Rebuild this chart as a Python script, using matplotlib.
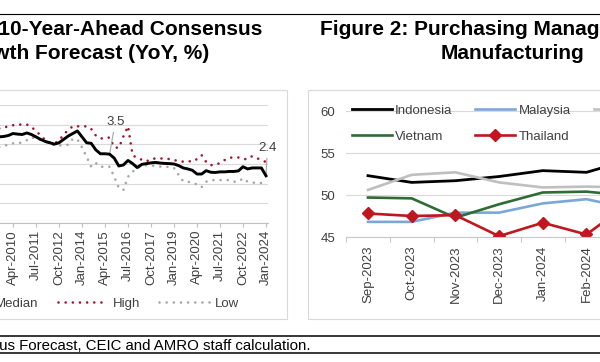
import numpy as np
import pandas as pd
import matplotlib
matplotlib.use('Agg')
import matplotlib.pyplot as plt
from matplotlib.patches import Rectangle
from matplotlib.lines import Line2D

plt.rcParams['font.family'] = ['Liberation Sans', 'DejaVu Sans']

# ---------------- Figure 1 data (quarterly) ----------------
quarters = pd.period_range('2009Q3', '2024Q1', freq='Q')
q_tick_labels = ['Apr-2010', 'Jul-2011', 'Oct-2012', 'Jan-2014', 'Apr-2015', 'Jul-2016',
                 'Oct-2017', 'Jan-2019', 'Apr-2020', 'Jul-2021', 'Oct-2022', 'Jan-2024']
median = [4.38, 4.40, 4.45, 4.55, 4.52, 4.50, 4.58, 4.50, 4.38, 4.25,
          4.15, 4.08, 4.01, 4.08, 4.25, 4.42, 4.55, 4.68, 4.38, 4.08,
          4.05, 3.72, 3.52, 3.52, 3.50, 3.30, 2.90, 2.95, 3.18, 3.02,
          2.82, 2.98, 3.02, 3.06, 3.08, 3.05, 3.03, 3.02, 3.00, 2.92,
          2.80, 2.75, 2.68, 2.49, 2.49, 2.66, 2.58, 2.57, 2.60, 2.60,
          2.62, 2.62, 2.65, 2.86, 2.75, 2.80, 2.80, 2.80, 2.40]
high = [4.81, 4.85, 4.92, 4.97, 5.00, 5.01, 5.01, 4.88, 4.68, 4.45,
        4.22, 4.08, 4.05, 4.18, 4.50, 4.72, 4.92, 4.92, 4.90, 4.92,
        4.78, 4.45, 4.30, 4.30, 4.35, 3.85, 3.82, 4.40, 4.92, 3.45,
        3.30, 3.22, 3.13, 3.26, 3.28, 3.28, 3.28, 3.25, 3.20, 3.15,
        3.12, 3.15, 3.12, 3.25, 3.45, 3.10, 2.94, 2.96, 3.05, 3.20,
        3.32, 3.33, 3.33, 3.25, 3.25, 3.40, 3.30, 3.20, 3.10]
low = [3.87, 3.92, 3.98, 4.05, 4.05, 4.10, 4.21, 4.35, 4.30, 4.22,
       4.13, 4.00, 3.96, 3.94, 3.96, 3.98, 4.28, 4.25, 3.85, 3.37,
       2.86, 3.05, 2.86, 2.86, 2.86, 2.35, 1.78, 1.68, 2.35, 2.60,
       2.80, 2.88, 2.94, 2.92, 2.90, 2.87, 2.86, 2.85, 2.80, 2.45,
       2.12, 2.10, 2.05, 1.96, 1.82, 2.10, 2.18, 2.18, 2.18, 2.18,
       2.18, 2.10, 2.10, 2.27, 2.10, 2.05, 2.05, 2.03, 2.03]
label_points = {'2015Q3': '3.5', '2024Q1': '2.4'}

# ---------------- Figure 2 data (monthly PMI) ----------------
months = ['Sep-2023', 'Oct-2023', 'Nov-2023', 'Dec-2023', 'Jan-2024', 'Feb-2024', 'Mar-2024']
indonesia = [52.3, 51.5, 51.7, 52.2, 52.9, 52.7, 54.2]
malaysia = [46.8, 46.8, 47.9, 47.9, 49.0, 49.5, 48.4]
philippines = [50.6, 52.4, 52.7, 51.5, 50.9, 51.0, 50.9]
vietnam = [49.7, 49.6, 47.3, 48.9, 50.3, 50.4, 49.9]
thailand = [47.8, 47.5, 47.6, 45.1, 46.7, 45.3, 49.1]

W, H = 600, 362
fig = plt.figure(figsize=(W / 100, H / 100), dpi=100)


def fxy(x, y):
    return x / W, 1 - y / H


def px_box(x0, y_top, x1, y_bot):
    return [x0 / W, 1 - y_bot / H, (x1 - x0) / W, (y_bot - y_top) / H]


GRID = '#d9d9d9'
TXT = '#404040'
FS = 9.5
DOTS = (0, (0.01, 2.7))

# ---------------- page decorations ----------------
fig.add_artist(Line2D([0, 1], [fxy(0, 14)[1]] * 2, color='black', lw=0.8,
                      transform=fig.transFigure))
for yy in (336, 353):
    fig.add_artist(Line2D([0, 1], [fxy(0, yy)[1]] * 2, color='black', lw=1.1,
                          transform=fig.transFigure))
fig.add_artist(Rectangle(fxy(-10, 319), 297 / W, 229 / H, fill=False,
                         edgecolor=GRID, lw=0.8, transform=fig.transFigure))
fig.add_artist(Rectangle(fxy(308, 319), 302 / W, 229 / H, fill=False,
                         edgecolor=GRID, lw=0.8, transform=fig.transFigure))

# titles
tkw = dict(fontsize=15, fontweight='bold', color='black', va='baseline', ha='center')
fig.text(*fxy(83, 35), 'Figure 1: 10-Year-Ahead Consensus', **tkw)
fig.text(*fxy(83, 59.3), 'Growth Forecast (YoY, %)', **tkw)
fig.text(*fxy(512, 35), "Figure 2: Purchasing Managers' Index:", **tkw)
fig.text(*fxy(512, 59.3), 'Manufacturing', **tkw)

# source
fig.text(*fxy(310, 350), 'Source: Consensus Forecast, CEIC and AMRO staff calculation.',
         fontsize=10.8, color='black', ha='right', va='baseline')

# ---------------- Figure 1 axes ----------------
ax1 = fig.add_axes(px_box(-14.6, 105, 268.3, 223))
x1 = np.arange(len(quarters))
ax1.plot(x1, median, color='black', lw=2.1, solid_joinstyle='round', label='Median', zorder=4)
ax1.plot(x1, high, color='#a3142c', lw=1.9, linestyle=DOTS,
         dash_capstyle='round', label='High', zorder=3)
ax1.plot(x1, low, color='#a6a6a6', lw=1.9, linestyle=DOTS,
         dash_capstyle='round', label='Low', zorder=3)
ax1.set_xlim(-3, 58.5)
ax1.set_ylim(0, 6)
ax1.set_yticks(range(0, 7))
ax1.yaxis.grid(True, color=GRID, lw=0.8)
ax1.set_axisbelow(True)
for s in ('left', 'right', 'top'):
    ax1.spines[s].set_visible(False)
ax1.spines['bottom'].set_color('#bfbfbf')
ax1.spines['bottom'].set_linewidth(0.8)
ax1.tick_params(axis='y', length=0, labelleft=False)
q_names = [p.start_time.strftime('%b-%Y') for p in quarters]
ax1.set_xticks([q_names.index(l) for l in q_tick_labels])
ax1.set_xticklabels(q_tick_labels, rotation=90, fontsize=FS, color=TXT)
ax1.tick_params(axis='x', length=3, color='#bfbfbf', width=0.8, pad=2)
ax1.patch.set_alpha(0)

q_str = [str(p) for p in quarters]
offsets = {'3.5': (4, 23), '2.4': (1, 20)}
for q, txt in label_points.items():
    i = q_str.index(q)
    ax1.annotate(txt, xy=(i, median[i]), xytext=offsets[txt], textcoords='offset points',
                 ha='center', va='center', fontsize=FS, color=TXT,
                 arrowprops=dict(arrowstyle='-', color='#a6a6a6', lw=0.8,
                                 shrinkA=1, shrinkB=0))

ax1.legend(loc='center left', bbox_to_anchor=fxy(-60, 303.7), bbox_transform=fig.transFigure,
           ncol=3, frameon=False, fontsize=FS, labelcolor=TXT, handlelength=3.8,
           handletextpad=0.38, columnspacing=1.45, borderpad=0, borderaxespad=0)

# ---------------- Figure 2 axes ----------------
ax2 = fig.add_axes(px_box(346.15, 111, 652, 237))
x2 = np.arange(len(months))
h_ind, = ax2.plot(x2, indonesia, color='black', lw=2.0, label='Indonesia')
h_mal, = ax2.plot(x2, malaysia, color='#7ba7d7', lw=1.9, label='Malaysia')
h_phi, = ax2.plot(x2, philippines, color='#bfbfbf', lw=1.9, label='Philippines')
h_vie, = ax2.plot(x2, vietnam, color='#2f6b34', lw=1.9, label='Vietnam')
h_tha, = ax2.plot(x2, thailand, color='#c0161d', lw=1.9, marker='D', ms=6, label='Thailand')
ax2.set_xlim(-0.5, 6.5)
ax2.set_ylim(45, 60)
ax2.set_yticks([45, 50, 55, 60])
ax2.set_yticklabels(['45', '50', '55', '60'], fontsize=FS, color=TXT)
ax2.yaxis.grid(True, color=GRID, lw=0.8)
ax2.set_axisbelow(True)
for s in ('left', 'right', 'top'):
    ax2.spines[s].set_visible(False)
ax2.spines['bottom'].set_color('#c8c8c8')
ax2.spines['bottom'].set_linewidth(0.8)
ax2.tick_params(axis='y', length=0, pad=8)
ax2.set_xticks(x2)
ax2.set_xticklabels(months, rotation=90, fontsize=FS, color=TXT)
ax2.set_xticks(np.arange(-0.5, len(months), 1), minor=True)
ax2.tick_params(axis='x', which='major', length=0, pad=6)
ax2.tick_params(axis='x', which='minor', length=3.5, color='#c8c8c8', width=0.8)
ax2.patch.set_alpha(0)

ax2.legend([h_ind, h_vie, h_mal, h_tha, h_phi],
           ['Indonesia', 'Vietnam', 'Malaysia', 'Thailand', 'Philippines'],
           loc='center left', bbox_to_anchor=fxy(352, 123.8), bbox_transform=fig.transFigure,
           ncol=3, frameon=False, fontsize=FS, labelcolor=TXT, handlelength=3.03,
           handletextpad=0.23, columnspacing=1.75, labelspacing=1.02, borderpad=0,
           borderaxespad=0)

fig.savefig('out.png', dpi=100)
